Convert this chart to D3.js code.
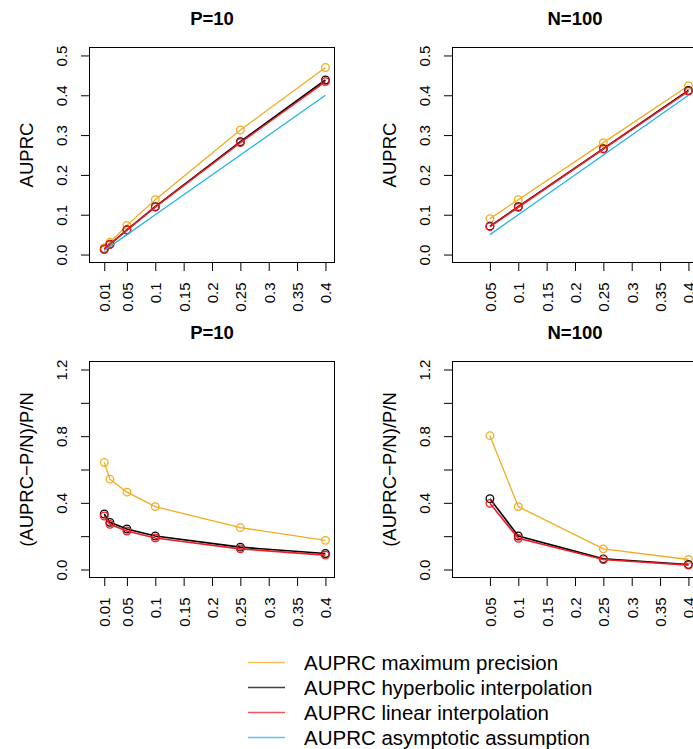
<!DOCTYPE html>
<html>
<head>
<meta charset="utf-8">
<script src="https://cdn.jsdelivr.net/npm/d3@7"></script>
<style>
  html, body { margin: 0; padding: 0; background: #fff; overflow: hidden; }
  svg { display: block; font-family: "Liberation Sans", Arial, Helvetica, sans-serif; }
</style>
</head>
<body>
<svg id="chart" width="693" height="749"></svg>
<script>
// P/N ratios evaluated in each column
const ratioP10 = [0.01, 0.02, 0.05, 0.1, 0.25, 0.4];
const ratioN100 = [0.05, 0.1, 0.25, 0.4];

// AUPRC, P = 10
const maxPrecP10 = [0.0164, 0.0308, 0.0732, 0.1377, 0.3128, 0.4698];
const hyperP10 = [0.0133, 0.0257, 0.0622, 0.1201, 0.2835, 0.4384];
const linearP10 = [0.0132, 0.0254, 0.0616, 0.1189, 0.2810, 0.4344];
const asymP10 = [0.01, 0.02, 0.05, 0.1, 0.25, 0.4];

// AUPRC, N = 100
const maxPrecN100 = [0.0902, 0.1377, 0.2810, 0.4240];
const hyperN100 = [0.0713, 0.1201, 0.2660, 0.4120];
const linearN100 = [0.0699, 0.1187, 0.2650, 0.4104];
const asymN100 = [0.05, 0.1, 0.25, 0.4];

// (AUPRC - P/N) / (P/N), P = 10
const relMaxP10 = [0.642, 0.542, 0.464, 0.377, 0.251, 0.175];
const relHyperP10 = [0.333, 0.283, 0.243, 0.201, 0.134, 0.096];
const relLinearP10 = [0.321, 0.271, 0.231, 0.189, 0.124, 0.086];

// (AUPRC - P/N) / (P/N), N = 100
const relMaxN100 = [0.803, 0.377, 0.124, 0.060];
const relHyperN100 = [0.425, 0.201, 0.064, 0.030];
const relLinearN100 = [0.397, 0.187, 0.060, 0.026];

// Axis ticks
const xTicksP10 = [0.01, 0.05, 0.1, 0.15, 0.2, 0.25, 0.3, 0.35, 0.4];
const xTicksN100 = [0.05, 0.1, 0.15, 0.2, 0.25, 0.3, 0.35, 0.4];
const yTicksTop = [0, 0.1, 0.2, 0.3, 0.4, 0.5];
const yTicksBottom = [0, 0.2, 0.4, 0.6, 0.8, 1.0, 1.2];
const yLabelsBottom = [0, 0.4, 0.8, 1.2];

const methodNames = [
  "AUPRC maximum precision",
  "AUPRC hyperbolic interpolation",
  "AUPRC linear interpolation",
  "AUPRC asymptotic assumption"
];
const methodColors = ["#F0AC1F", "#000000", "#EE1C24", "#1CB4EA"];

const svg = d3.select("#chart");
const tickFont = 15;

function fmtX(v) { return String(+v.toFixed(2)); }
function fmtY(v) { return v.toFixed(1); }

function drawPanel(cfg) {
  const [x0, y0, w, h] = cfg.box;
  const g = svg.append("g");

  const x = d3.scaleLinear().domain([-0.016, 0.416]).range([x0, x0 + w]);
  const y = d3.scaleLinear().domain(cfg.yDomain).range([y0 + h, y0]);

  // title
  g.append("text")
    .attr("x", x0 + w / 2).attr("y", y0 - 22.5)
    .attr("text-anchor", "middle")
    .attr("font-weight", "bold").attr("font-size", 18.5)
    .text(cfg.title);

  // y axis title
  g.append("text")
    .attr("transform", `translate(${x0 - 57},${y0 + h / 2}) rotate(-90)`)
    .attr("text-anchor", "middle")
    .attr("font-size", 18.5)
    .text(cfg.yTitle);

  // x axis
  const xAxis = g.append("g")
    .attr("transform", `translate(0,${y0 + h})`)
    .call(d3.axisBottom(x).tickValues(cfg.xTicks).tickFormat(fmtX).tickSize(8.5).tickSizeOuter(0));
  xAxis.select(".domain").remove();
  xAxis.selectAll(".tick line").attr("stroke", "#000").attr("stroke-width", 1);
  xAxis.selectAll(".tick text")
    .attr("transform", "rotate(-90)")
    .attr("x", -20).attr("y", 0).attr("dy", "0.36em")
    .attr("text-anchor", "end")
    .attr("font-size", tickFont).attr("fill", "#000")
    .attr("font-family", null);

  // y axis
  const yAxis = g.append("g")
    .attr("transform", `translate(${x0},0)`)
    .call(d3.axisLeft(y).tickValues(cfg.yTicks).tickFormat(fmtY).tickSize(8.5).tickSizeOuter(0));
  yAxis.select(".domain").remove();
  yAxis.selectAll(".tick line").attr("stroke", "#000").attr("stroke-width", 1);
  yAxis.selectAll(".tick text")
    .attr("transform", "rotate(-90)")
    .attr("x", 0).attr("y", -23).attr("dy", 0)
    .attr("text-anchor", "middle")
    .attr("font-size", tickFont).attr("fill", "#000")
    .attr("font-family", null)
    .style("display", d => cfg.yLabels.some(v => Math.abs(v - d) < 1e-9) ? null : "none");

  // plot box
  g.append("rect")
    .attr("x", x0).attr("y", y0).attr("width", w).attr("height", h)
    .attr("fill", "none").attr("stroke", "#000").attr("stroke-width", 1);

  const line = d3.line().x(d => x(d[0])).y(d => y(d[1]));

  cfg.series.forEach(s => {
    const pts = cfg.xs.map((xv, i) => [xv, s.values[i]]);
    g.append("path")
      .datum(pts)
      .attr("d", line)
      .attr("fill", "none")
      .attr("stroke", s.color)
      .attr("stroke-width", s.width);
    if (s.points) {
      g.selectAll(null)
        .data(pts)
        .join("circle")
        .attr("cx", d => x(d[0]))
        .attr("cy", d => y(d[1]))
        .attr("r", 3.8)
        .attr("fill", "none")
        .attr("stroke", s.color)
        .attr("stroke-width", 1.3);
    }
  });
}

const boxW = 245;
const colLeft = [89.5, 452.5];
const rowTop = [47.5, 361.5];
const topH = 215, botH = 216;

function seriesList(maxV, hypV, linV, asymV) {
  const list = [
    { values: maxV, color: methodColors[0], width: 1.3, points: true },
    { values: hypV, color: methodColors[1], width: 1.6, points: true },
    { values: linV, color: methodColors[2], width: 1.6, points: true }
  ];
  if (asymV) list.push({ values: asymV, color: methodColors[3], width: 1.3, points: false });
  return list;
}

drawPanel({
  box: [colLeft[0], rowTop[0], boxW, topH],
  title: "P=10", yTitle: "AUPRC",
  yDomain: [-0.02, 0.52], yTicks: yTicksTop, yLabels: yTicksTop,
  xTicks: xTicksP10, xs: ratioP10,
  series: seriesList(maxPrecP10, hyperP10, linearP10, asymP10)
});
drawPanel({
  box: [colLeft[1], rowTop[0], boxW, topH],
  title: "N=100", yTitle: "AUPRC",
  yDomain: [-0.02, 0.52], yTicks: yTicksTop, yLabels: yTicksTop,
  xTicks: xTicksN100, xs: ratioN100,
  series: seriesList(maxPrecN100, hyperN100, linearN100, asymN100)
});
drawPanel({
  box: [colLeft[0], rowTop[1], boxW, botH],
  title: "P=10", yTitle: "(AUPRC\u2212P/N)/P/N",
  yDomain: [-0.048, 1.248], yTicks: yTicksBottom, yLabels: yLabelsBottom,
  xTicks: xTicksP10, xs: ratioP10,
  series: seriesList(relMaxP10, relHyperP10, relLinearP10, null)
});
drawPanel({
  box: [colLeft[1], rowTop[1], boxW, botH],
  title: "N=100", yTitle: "(AUPRC\u2212P/N)/P/N",
  yDomain: [-0.048, 1.248], yTicks: yTicksBottom, yLabels: yLabelsBottom,
  xTicks: xTicksN100, xs: ratioN100,
  series: seriesList(relMaxN100, relHyperN100, relLinearN100, null)
});

// legend
const legend = svg.append("g");
const legendY = d3.scaleBand().domain(methodNames).range([650.5, 750.5]);
methodNames.forEach((name, i) => {
  const cy = legendY(name) + legendY.bandwidth() / 2 - 0.5;
  legend.append("line")
    .attr("x1", 248).attr("x2", 285)
    .attr("y1", cy).attr("y2", cy)
    .attr("stroke", methodColors[i]).attr("stroke-width", 1.3)
    .attr("stroke-opacity", 0.75);
  legend.append("text")
    .attr("x", 304).attr("y", cy).attr("dy", "0.36em")
    .attr("font-size", 20.5)
    .text(name);
});
</script>
</body>
</html>
